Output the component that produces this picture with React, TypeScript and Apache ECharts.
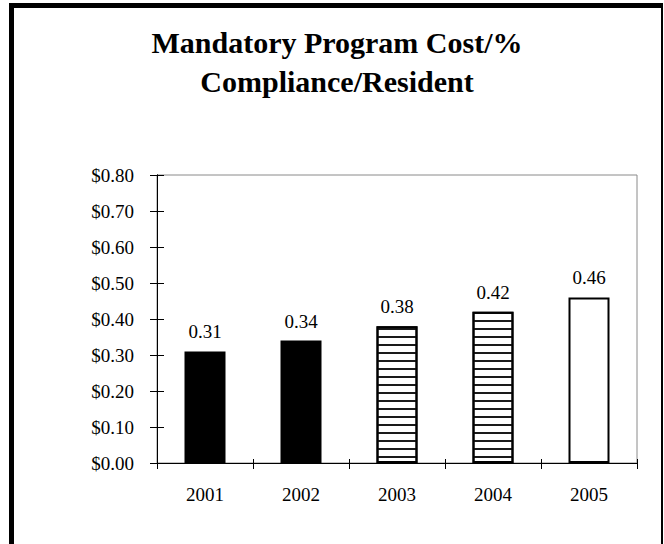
import { useEffect, useRef } from "react";
import * as echarts from "echarts";

// Cost per resident, by year
const years = ["2001", "2002", "2003", "2004", "2005"];
const costPerResident = [0.31, 0.34, 0.38, 0.42, 0.46];
// fill style for each year's bar
const barFills = ["solid", "solid", "striped", "striped", "open"];
const titleLines = ["Mandatory Program Cost/%", "Compliance/Resident"];
const yMin = 0;
const yMax = 0.8;
const yStep = 0.1;

const SERIF = "Liberation Serif";

const stripeDecal = {
  symbol: "rect",
  symbolSize: 1,
  dashArrayX: [[1, 0]],
  dashArrayY: [2, 5.7],
  rotation: 0,
  color: "#1a1a1a",
  backgroundColor: "#ffffff",
};

function itemStyleFor(fill: string) {
  if (fill === "solid") {
    return { color: "#000000", borderColor: "#000000", borderWidth: 2 };
  }
  if (fill === "striped") {
    return {
      color: "#ffffff",
      borderColor: "#000000",
      borderWidth: 2,
      decal: stripeDecal,
    };
  }
  return { color: "#ffffff", borderColor: "#000000", borderWidth: 2 };
}

export default function App() {
  const ref = useRef<HTMLDivElement>(null);

  useEffect(() => {
    if (!ref.current) return;
    const chart = echarts.init(ref.current, undefined, { renderer: "svg" });

    const valueAxisBase = {
      type: "value" as const,
      min: yMin,
      max: yMax,
      interval: yStep,
      position: "left" as const,
      splitLine: { show: false },
      axisLine: { show: true, lineStyle: { color: "#000", width: 1 } },
    };
    const categoryAxisBase = {
      type: "category" as const,
      data: years,
      position: "bottom" as const,
      axisLine: { show: true, lineStyle: { color: "#000", width: 1 } },
      splitLine: { show: false },
    };

    chart.setOption({
      animation: false,
      backgroundColor: "#ffffff",
      textStyle: { fontFamily: SERIF },
      grid: {
        left: 157,
        right: 27,
        top: 175,
        bottom: 81,
        show: true,
        borderColor: "#8a8a8a",
        borderWidth: 1,
        backgroundColor: "transparent",
      },
      xAxis: [
        {
          ...categoryAxisBase,
          axisTick: {
            show: true,
            inside: false,
            length: 6,
            lineStyle: { color: "#000", width: 1 },
          },
          axisLabel: {
            show: true,
            margin: 22,
            color: "#000",
            fontFamily: SERIF,
            fontSize: 19,
          },
        },
        {
          ...categoryAxisBase,
          axisTick: {
            show: true,
            inside: true,
            length: 4,
            lineStyle: { color: "#000", width: 1 },
          },
          axisLabel: { show: false },
        },
      ],
      yAxis: [
        {
          ...valueAxisBase,
          axisTick: {
            show: true,
            inside: false,
            length: 7,
            lineStyle: { color: "#000", width: 1 },
          },
          axisLabel: {
            show: true,
            margin: 23,
            color: "#000",
            fontFamily: SERIF,
            fontSize: 19,
            formatter: (v: number) => "$" + v.toFixed(2),
          },
        },
        {
          ...valueAxisBase,
          axisTick: {
            show: true,
            inside: true,
            length: 7,
            lineStyle: { color: "#000", width: 1 },
          },
          axisLabel: { show: false },
        },
      ],
      series: [
        {
          type: "bar",
          xAxisIndex: 0,
          yAxisIndex: 0,
          barWidth: 41,
          data: costPerResident.map((v, i) => ({
            value: v,
            itemStyle: itemStyleFor(barFills[i]),
          })),
          label: {
            show: true,
            position: "top",
            distance: 10,
            color: "#000",
            fontFamily: SERIF,
            fontSize: 19,
            fontWeight: "normal",
            formatter: (p: any) => Number(p.value).toFixed(2),
          },
        },
      ],
      graphic: [
        // frame
        { type: "rect", shape: { x: 9, y: 3, width: 5, height: 541 }, style: { fill: "#000" }, silent: true },
        { type: "rect", shape: { x: 9, y: 3, width: 654, height: 5 }, style: { fill: "#000" }, silent: true },
        { type: "rect", shape: { x: 661, y: 3, width: 2, height: 541 }, style: { fill: "#000" }, silent: true },
        // title
        {
          type: "text",
          x: 337,
          y: 42,
          style: {
            text: titleLines[0],
            fill: "#000",
            font: `bold 30px ${SERIF}`,
            textAlign: "center",
            textVerticalAlign: "middle",
          },
          silent: true,
        },
        {
          type: "text",
          x: 337,
          y: 81,
          style: {
            text: titleLines[1],
            fill: "#000",
            font: `bold 30px ${SERIF}`,
            textAlign: "center",
            textVerticalAlign: "middle",
          },
          silent: true,
        },
      ],
    });

    return () => chart.dispose();
  }, []);

  return (
    <div
      ref={ref}
      style={{ position: "fixed", left: 0, top: 0, width: 664, height: 544, background: "#fff" }}
    />
  );
}
